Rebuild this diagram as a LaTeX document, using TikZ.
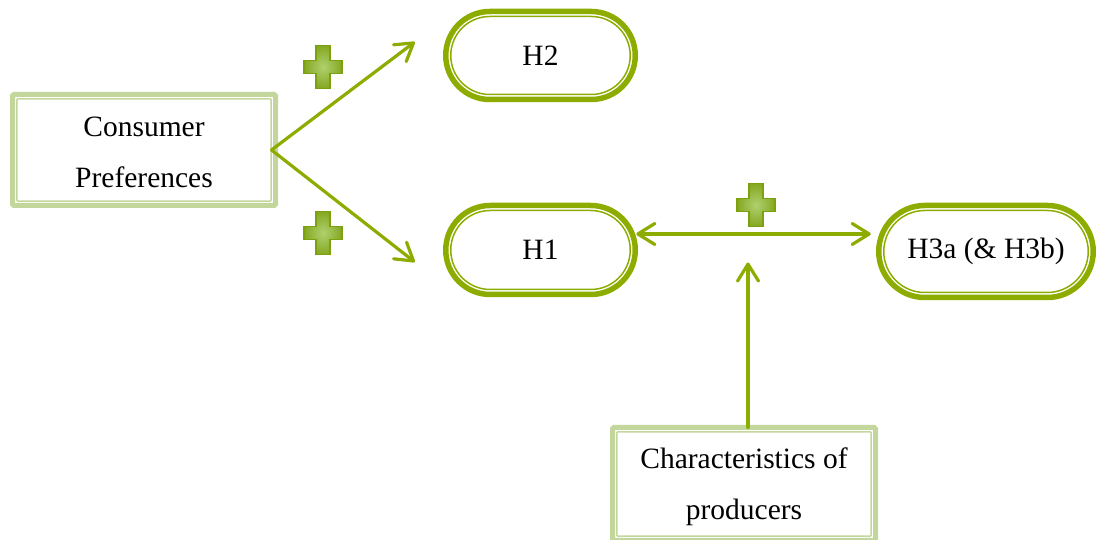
\documentclass[tikz,border=0pt]{standalone}
\usepackage{fontspec}
\setmainfont{Liberation Serif}
\usetikzlibrary{arrows.meta,calc}
\definecolor{grn}{RGB}{140,172,0}
\definecolor{lgrn}{RGB}{195,214,155}
\definecolor{plusin}{RGB}{176,208,110}
\definecolor{plusout}{RGB}{132,168,34}
\definecolor{plusedge}{RGB}{125,160,15}
\tikzset{
  txt/.style={align=center, font=\fontsize{29.5}{51}\selectfont, inner sep=0pt, outer sep=0pt},
  rectbox/.style={draw=lgrn, line width=5pt, rounded corners=1.5pt,
    minimum width=263pt, minimum height=111pt, inner sep=0pt, outer sep=0pt},
  pill/.style={txt, draw=grn, line width=5.5pt, rounded corners=#1},
  arr/.style={draw=grn, line width=3.2pt, line cap=round,
    -{Straight Barb[length=17pt,width=21pt,round]}},
  darr/.style={draw=grn, line width=3.2pt, line cap=round,
    {Straight Barb[length=17pt,width=21pt,round]}-{Straight Barb[length=17pt,width=21pt,round]}},
  plussign/.pic={
    \path[shading=radial, inner color=plusin, outer color=plusout, draw=plusedge, line width=1.2pt]
      (-7,21.5) -- (7,21.5) -- (7,6.5) -- (19,6.5) -- (19,-6.5) -- (7,-6.5) -- (7,-21.5)
      -- (-7,-21.5) -- (-7,-6.5) -- (-19,-6.5) -- (-19,6.5) -- (-7,6.5) -- cycle;
  }
}
\begin{document}
\begin{tikzpicture}[x=1pt,y=1pt]
\useasboundingbox (0,0) rectangle (1097,540);
% boxes
\node[rectbox] (cons) at (144,390) {};
\node[txt] (cons-t) at ($(cons.center)+(0,-2.5)$) {Consumer\\Preferences};
\node[rectbox, minimum height=113pt] (char) at (744,56) {};
\node[txt] (char-t) at ($(char.north)+(0,-59)$) {Characteristics of\\producers};
\node[pill=44pt, minimum width=189.5pt, minimum height=88pt] (h2) at (540.5,484.5) {H2};
\node[pill=44.5pt, minimum width=189.5pt, minimum height=89pt] (h1) at (540.5,290) {H1};
\node[pill=46pt, minimum width=214.5pt, minimum height=92pt] (h3) at (986,288.5) {H3a (\& H3b)};
% inner lines
\foreach \n in {cons,char}{
  \draw[lgrn, line width=1.5pt, rounded corners=1pt]
    ($(\n.north west)+(4.3,-4.3)$) rectangle ($(\n.south east)+(-4.3,4.3)$);
}
\draw[grn, line width=1.5pt, rounded corners=39pt]
  ($(h2.north west)+(5,-5)$) rectangle ($(h2.south east)+(-5,5)$);
\draw[grn, line width=1.5pt, rounded corners=39.5pt]
  ($(h1.north west)+(5,-5)$) rectangle ($(h1.south east)+(-5,5)$);
\draw[grn, line width=1.5pt, rounded corners=41pt]
  ($(h3.north west)+(5,-5)$) rectangle ($(h3.south east)+(-5,5)$);
% connector coordinates
\coordinate (cp) at ($(cons.east)+(-4,0)$);
\coordinate (t2) at ($(h2.west)+(-31,13.5)$);
\coordinate (t1) at ($(h1.west)+(-31,-12)$);
\coordinate (d1) at ($(h1.east)+(1,16)$);
\coordinate (d3) at ($(h3.west)+(-8,17.5)$);
\coordinate (vs) at ($(char.north)+(4,0)$);
\coordinate (vt) at ($(char.north)+(4,165)$);
% connectors
\draw[arr] (cp) -- (t2);
\draw[arr] (cp) -- (t1);
\draw[darr] (d1) -- (d3);
\draw[arr] (vs) -- (vt);
% plus signs
\pic at (323,473) {plussign};
\pic at (323,307) {plussign};
\pic at (756,335) {plussign};
\end{tikzpicture}
\end{document}
